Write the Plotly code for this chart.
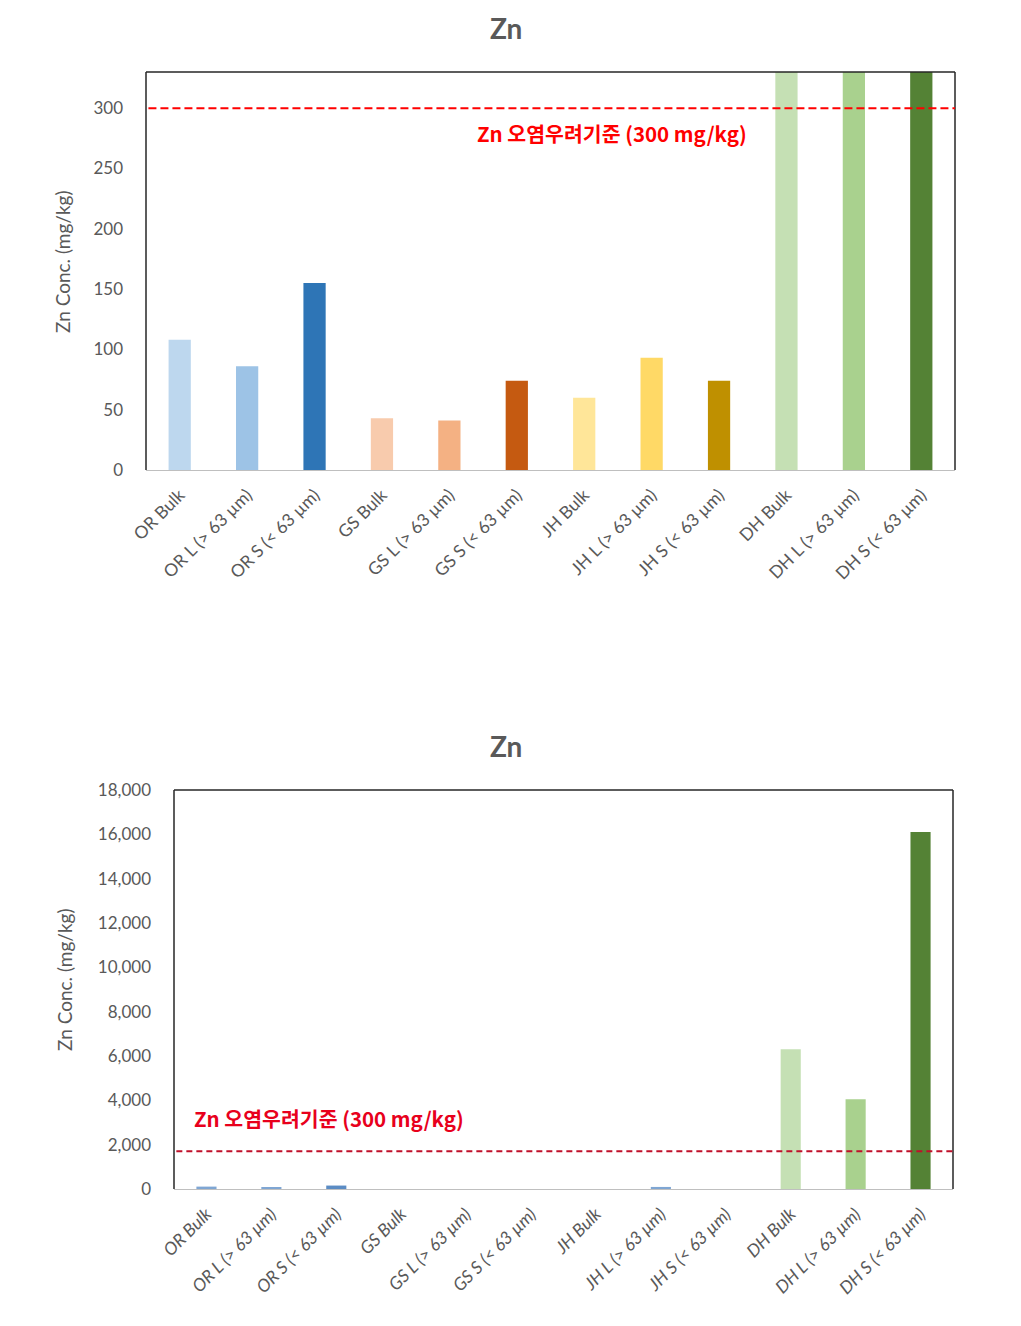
import plotly.graph_objects as go

categories = ["OR Bulk", "OR L (> 63 µm)", "OR S (< 63 µm)",
              "GS Bulk", "GS L (> 63 µm)", "GS S (< 63 µm)",
              "JH Bulk", "JH L (> 63 µm)", "JH S (< 63 µm)",
              "DH Bulk", "DH L (> 63 µm)", "DH S (< 63 µm)"]
zn_values = [108, 86, 155, 43, 41, 74, 60, 93, 74, 6300, 4050, 16100]
bar_colors = ["#BDD7EE", "#9DC3E6", "#2E75B6",
              "#F8CBAD", "#F4B183", "#C55A11",
              "#FFE699", "#FFD966", "#BF9000",
              "#C5E0B4", "#A9D18E", "#548235"]
# lower panel: only some bars are visible in the reference
zn_values_lower = [108, 86, 155, None, None, None, None, 93, None, 6300, 4050, 16100]
lower_colors = ["#7FA6D3", "#7FA6D3", "#5B8CC4",
                "#7FA6D3", "#7FA6D3", "#7FA6D3",
                "#7FA6D3", "#7FA6D3", "#7FA6D3",
                "#C5E0B4", "#A9D18E", "#548235"]
threshold_top = 300
threshold_lower = 1700
threshold_label = "Zn 오염우려기준 (300 mg/kg)"
top_ticks = [0, 50, 100, 150, 200, 250, 300]
lower_ticks = list(range(0, 18001, 2000))

# figure sized so that with the 8px body margin it fills the 1021x1326 window
W, H = 1005, 1310
OFF = 8
def px(x): return (x - OFF) / W
def py(y): return 1 - (y - OFF) / H

gray = "#595959"
font_lat = "Lato, 'Open Sans', sans-serif"
font_kr = "'Noto Sans CJK KR', sans-serif"

fig = go.Figure()
fig.add_trace(go.Bar(x=categories, y=zn_values, marker=dict(color=bar_colors, line=dict(width=0)),
                     xaxis="x", yaxis="y", width=0.33, showlegend=False))
fig.add_trace(go.Bar(x=categories, y=zn_values_lower, marker=dict(color=lower_colors, line=dict(width=0)),
                     xaxis="x2", yaxis="y2", width=0.31, showlegend=False))

xcommon = dict(showgrid=False, tickangle=-45,
               showline=True, linecolor="#BFBFBF", linewidth=1, ticks="", zeroline=False,
               mirror=False, automargin=False, ticklabelstandoff=7)
ycommon = dict(showgrid=False, zeroline=False, tickfont=dict(size=17, color=gray, family=font_lat),
               showline=False, ticks="", automargin=False)

fig.update_layout(
    width=W, height=H, margin=dict(l=0, r=0, t=0, b=0, autoexpand=False),
    paper_bgcolor="white", plot_bgcolor="white",
    xaxis=dict(domain=[px(146), px(955)], anchor="y",
               tickfont=dict(size=17.5, color=gray, family=font_lat), **xcommon),
    yaxis=dict(domain=[py(470), py(72)], anchor="x", range=[0, 330], tickvals=top_ticks,
               ticklabelstandoff=22, **ycommon),
    xaxis2=dict(domain=[px(174), px(953)], anchor="y2",
                tickfont=dict(size=17.5, color=gray, family=font_lat, style="italic"), **xcommon),
    yaxis2=dict(domain=[py(1189), py(790)], anchor="x2", range=[0, 18000], tickvals=lower_ticks,
                tickformat=",", ticklabelstandoff=22, **ycommon),
)

# plot frames (left, top, right dark lines)
for xr, yr in (("x", "y"), ("x2", "y2")):
    for (x0, x1, y0, y1) in ((0, 0, 0, 1), (0, 1, 1, 1), (1, 1, 0, 1)):
        fig.add_shape(type="line", xref=f"{xr} domain", yref=f"{yr} domain",
                      x0=x0, x1=x1, y0=y0, y1=y1, line=dict(color="#262626", width=1.5))

# threshold lines
fig.add_shape(type="line", xref="x domain", yref="y", x0=0.003, x1=1, y0=threshold_top, y1=threshold_top,
              line=dict(color="#FF0000", width=2, dash="8px,4px"))
fig.add_shape(type="line", xref="x2 domain", yref="y2", x0=0.003, x1=1, y0=threshold_lower, y1=threshold_lower,
              line=dict(color="#C0102A", width=2, dash="6px,4px"))

# threshold labels
fig.add_annotation(text=f"<b>{threshold_label}</b>", xref="paper", yref="paper",
                   x=px(612), y=py(133), showarrow=False, xanchor="center", yanchor="middle",
                   font=dict(size=20.5, color="#FF0000", family=font_kr))
fig.add_annotation(text=f"<b>{threshold_label}</b>", xref="paper", yref="paper",
                   x=px(329), y=py(1118), showarrow=False, xanchor="center", yanchor="middle",
                   font=dict(size=20.5, color="#E8001C", family=font_kr))

# titles
for cy in (28, 746):
    fig.add_annotation(text="<b>Zn</b>", xref="paper", yref="paper", x=px(506), y=py(cy),
                       showarrow=False, xanchor="center", yanchor="middle",
                       font=dict(size=28, color=gray, family=font_lat))

# y-axis titles
fig.add_annotation(text="Zn Conc. (mg/kg)", xref="paper", yref="paper", x=px(62), y=py(262),
                   showarrow=False, textangle=-90, xanchor="center", yanchor="middle",
                   font=dict(size=19, color=gray, family=font_lat))
fig.add_annotation(text="Zn Conc. (mg/kg)", xref="paper", yref="paper", x=px(64), y=py(980),
                   showarrow=False, textangle=-90, xanchor="center", yanchor="middle",
                   font=dict(size=19, color=gray, family=font_lat))

fig.write_html("out.html")
